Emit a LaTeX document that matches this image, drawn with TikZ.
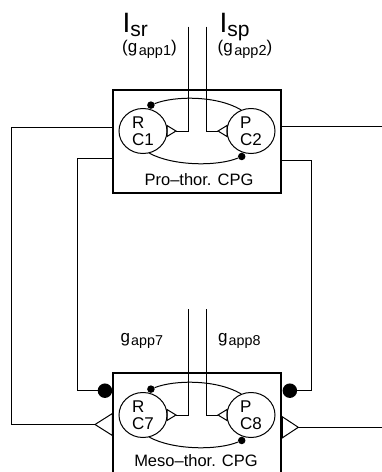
\documentclass[tikz,border=0pt]{standalone}
\usepackage{fontspec}
\setmainfont{Liberation Sans}
\usetikzlibrary{calc,shapes.geometric}
\begin{document}
\begin{tikzpicture}[x=1pt,y=-1pt,
  wire/.style={line width=1pt},
  cpg/.style={draw, rectangle, line width=2pt, inner sep=0pt, minimum width=168pt},
  cell/.style={draw, ellipse, line width=1pt, minimum width=48pt, minimum height=45pt, inner sep=0pt, align=left, font=\fontsize{17}{17.5}\selectfont},
  sdot/.style={circle, fill, inner sep=0pt, minimum size=7.5pt},
  bdot/.style={circle, fill, inner sep=0pt, minimum size=14.5pt},
  lbl/.style={inner sep=0pt, anchor=base west},
  boxtitle/.style={inner sep=0pt, anchor=base, font=\fontsize{16.5}{16.5}\selectfont}]
\useasboundingbox (0,0) rectangle (382,472);
\clip (0,0) rectangle (382,472);

% CPG boxes
\node[cpg, minimum height=102.5pt] (box1) at (197.4,141.25) {};
\node[cpg, minimum height=130pt] (box2) at (197.4,438.3) {};

% cells
\node[cell] (R1) at (143,131) {R\\C1};
\node[cell] (P1) at (251,131) {P\\C2};
\node[cell] (R7) at (143,415) {R\\C7};
\node[cell] (P8) at (251,415) {P\\C8};

% captions
\node[boxtitle] (cap1) at (199,185) {Pro–thor. CPG};
\node[boxtitle] (cap2) at (196,466) {Meso–thor. CPG};

% inhibitory synapses inside boxes
\node[sdot, anchor=253] (dR1) at (R1.73) {};
\node[sdot, anchor=70] (dP1) at (P1.-110) {};
\draw[wire] (dR1) .. controls +(24,-9.5) and +(-24,-14.4) .. (P1.115);
\draw[wire] (R1.-74) .. controls +(24,13) and +(-24,10) .. (dP1);

\node[sdot, anchor=253] (dR7) at (R7.73) {};
\node[sdot, anchor=70] (dP8) at (P8.-110) {};
\draw[wire] (dR7) .. controls +(24,-9.5) and +(-24,-14.4) .. (P8.115);
\draw[wire] (R7.-74) .. controls +(24,13) and +(-24,10) .. (dP8);

% inputs
\coordinate (i1) at (188,26.7);
\coordinate (i2) at (206,26.7);
\coordinate (i7) at (188,309.3);
\coordinate (i8) at (206,309.3);
\coordinate (a1) at ($(R1.east)+(8.5,0)$);
\coordinate (a2) at ($(P1.west)+(-8.5,0)$);
\coordinate (a7) at ($(R7.east)+(8.5,0)$);
\coordinate (a8) at ($(P8.west)+(-8.5,0)$);
\draw[wire] (i1) |- (a1);
\draw[wire] (a1) -- ++(-9,-5.5) -- ++(0,11) -- cycle;
\draw[wire] (i2) |- (a2);
\draw[wire] (a2) -- ++(9,-5.5) -- ++(0,11) -- cycle;
\draw[wire] (i7) |- (a7);
\draw[wire] (a7) -- ++(-9,-5.5) -- ++(0,11) -- cycle;
\draw[wire] (i8) |- (a8);
\draw[wire] (a8) -- ++(9,-5.5) -- ++(0,11) -- cycle;

% input labels
\node[lbl] (Isr) at (122.5,32.7) {\fontsize{28}{28}\selectfont I\raisebox{-3.5pt}{\fontsize{21}{21}\selectfont sr}};
\node[lbl] (Isp) at (219.5,32.7) {\fontsize{28}{28}\selectfont I\raisebox{-3.5pt}{\fontsize{21}{21}\selectfont sp}};
\node[lbl] (g1) at (122,52.5) {\fontsize{17}{17}\selectfont (g\hspace{1.5pt}\raisebox{-3pt}{\fontsize{14.5}{14.5}\selectfont app1})};
\node[lbl] (g2) at (217.5,52.5) {\fontsize{17}{17}\selectfont (g\hspace{1.5pt}\raisebox{-3pt}{\fontsize{14.5}{14.5}\selectfont app2})};
\node[lbl] (g7) at (120.5,342) {\fontsize{17}{17}\selectfont g\hspace{1pt}\raisebox{-3pt}{\fontsize{14.3}{14.3}\selectfont app7}};
\node[lbl] (g8) at (218,342) {\fontsize{17}{17}\selectfont g\hspace{1pt}\raisebox{-3pt}{\fontsize{14.3}{14.3}\selectfont app8}};

% inter-segmental connections
\coordinate (L1) at (11,127.7);
\coordinate (L1b) at (11,424.5);
\coordinate (tl) at (95,424.5);
\draw[wire] (box1.west |- L1) -- (L1) -- (L1b) -- (tl);
\draw[wire] (tl) -- ($(box2.west |- tl)+(0,-11)$) -- ($(box2.west |- tl)+(0,11)$) -- cycle;

\coordinate (L2) at (77.7,158.3);
\coordinate (L2b) at (77.7,390.7);
\node[bdot, anchor=east] (bl) at (box2.west |- L2b) {};
\draw[wire] (box1.west |- L2) -- (L2) -- (L2b) -- (bl);

\coordinate (Re1) at (382,126.7);
\draw[wire] (box1.east |- Re1) -- (Re1);

\coordinate (R2) at (311,160);
\coordinate (R2b) at (311,390.7);
\node[bdot, anchor=west] (br) at (box2.east |- R2b) {};
\draw[wire] (box1.east |- R2) -- (R2) -- (R2b) -- (br);

\coordinate (tr) at (298.3,427.3);
\coordinate (Re2) at (382,427.3);
\draw[wire] (Re2) -- (tr);
\draw[wire] (tr) -- ($(box2.east |- tr)+(0,-10.5)$) -- ($(box2.east |- tr)+(0,10.5)$) -- cycle;
\end{tikzpicture}
\end{document}
